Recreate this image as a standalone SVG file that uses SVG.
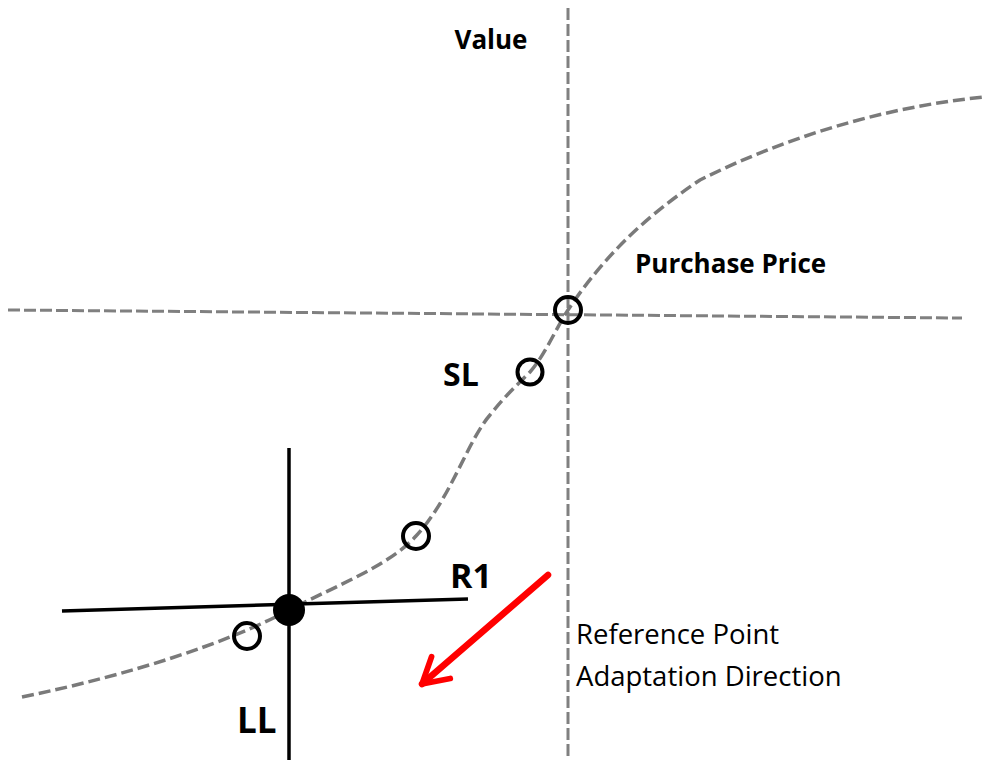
<svg xmlns="http://www.w3.org/2000/svg" width="987" height="760" viewBox="0 0 987 760">
<style>
.axis{stroke:#808080;stroke-width:3;stroke-dasharray:12 4;fill:none}
.curve{stroke:#7a7a7a;stroke-width:3.5;stroke-dasharray:12 5;fill:none}
.pt{fill:none;stroke:#000;stroke-width:4}
.solid{stroke:#000;stroke-width:3.5;fill:none}
.b{font-family:"Open Sans","Liberation Sans",sans-serif;font-weight:bold;fill:#000}
.r{font-family:"Open Sans","Liberation Sans",sans-serif;fill:#000}
</style>
<defs>
<marker id="arr" viewBox="0 0 10 10" refX="8" refY="5" markerWidth="5.5" markerHeight="5.5" orient="auto" markerUnits="strokeWidth">
<path d="M1,1 L8,5 L1,9" fill="none" stroke="#f00" stroke-width="1.6" stroke-linecap="round" stroke-linejoin="round"/>
</marker>
</defs>
<g id="connectors">
<line class="axis" x1="8" y1="310" x2="962" y2="318"/>
<line class="axis" x1="568" y1="8" x2="568" y2="756"/>
<path class="curve" d="M22,697 C130,675 230,642 289,610 C340,584 390,565 416,536 C450,500 468,440 490,415 C505,396 517,385 530,372 C545,355 555,330 568,310 C600,262 640,220 700,180 C780,140 880,107 985,97"/>
<line class="solid" x1="289" y1="448" x2="289" y2="760"/>
<line class="solid" x1="62" y1="611" x2="468" y2="599"/>
<line x1="548" y1="575" x2="422" y2="684" stroke="#f00" stroke-width="6.5" stroke-linecap="round" marker-end="url(#arr)"/>
</g>
<g id="points">
<circle class="pt" cx="568" cy="310" r="13"/>
<circle class="pt" cx="530" cy="372" r="12.5"/>
<circle class="pt" cx="416" cy="536" r="13"/>
<circle class="pt" cx="247" cy="636" r="13"/>
<circle cx="289" cy="610" r="16" fill="#000"/>
</g>
<g id="labels">
<text class="b" x="491" y="49" font-size="26" text-anchor="middle">Value</text>
<text class="b" x="635" y="273" font-size="26">Purchase Price</text>
<text class="b" x="443" y="386" font-size="32">SL</text>
<text class="b" x="450" y="588" font-size="34">R1</text>
<text class="b" x="237" y="733" font-size="35">LL</text>
<text class="r" x="576" y="644" font-size="27.5">Reference Point</text>
<text class="r" x="576" y="686" font-size="27.5">Adaptation Direction</text>
</g>
</svg>
